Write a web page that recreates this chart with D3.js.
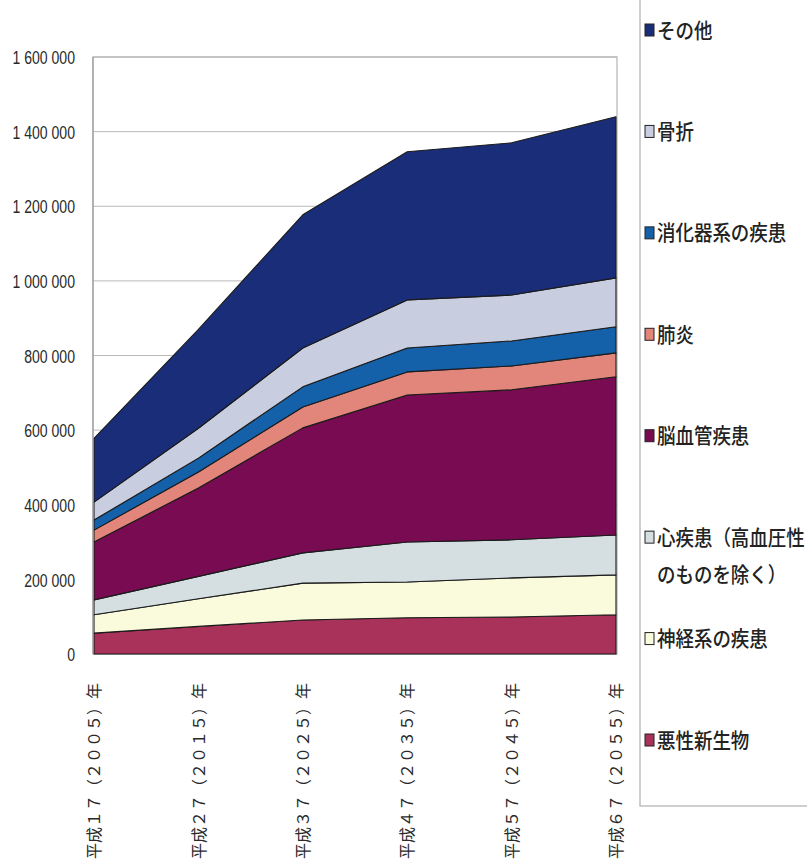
<!DOCTYPE html>
<html lang="ja">
<head>
<meta charset="utf-8">
<script src="https://cdn.jsdelivr.net/npm/d3@7"></script>
<style>
  html, body { margin: 0; padding: 0; background: #fff; }
  svg { display: block; }
</style>
</head>
<body>
<svg id="chart" width="807" height="863"></svg>
<script>
// Categories (x axis), bottom to top stacked series, and y tick values
const categories = [
  "平成１７（２００５）年",
  "平成２７（２０１５）年",
  "平成３７（２０２５）年",
  "平成４７（２０３５）年",
  "平成５７（２０４５）年",
  "平成６７（２０５５）年"
];

const seriesNames = [
  "悪性新生物",
  "神経系の疾患",
  "心疾患（高血圧性のものを除く）",
  "脳血管疾患",
  "肺炎",
  "消化器系の疾患",
  "骨折",
  "その他"
];

const malignant      = [56000, 74000, 91000, 97000, 99000, 105000];
const nervous        = [49000, 74000, 99000, 96000, 105000, 107000];
const heart          = [40000, 60000, 81000, 107000, 102000, 107000];
const cerebrovasc    = [155000, 237000, 335000, 394000, 402000, 424000];
const pneumonia      = [32000, 43000, 56000, 62000, 64000, 64000];
const digestive      = [27000, 37000, 54000, 64000, 67000, 70000];
const fracture       = [48000, 80000, 104000, 129000, 123000, 131000];
const other          = [171000, 265000, 357000, 397000, 408000, 432000];

const seriesValues = [malignant, nervous, heart, cerebrovasc, pneumonia, digestive, fracture, other];

const seriesColors = ["#a8325a", "#fafadc", "#d5dfe2", "#780b52", "#e2857a", "#1461aa", "#c9cde0", "#1a2d78"];

// Legend labels (top to bottom), with line breaks
const legendLabels = [
  ["その他"],
  ["骨折"],
  ["消化器系の疾患"],
  ["肺炎"],
  ["脳血管疾患"],
  ["心疾患（高血圧性", "のものを除く）"],
  ["神経系の疾患"],
  ["悪性新生物"]
];
const legendColors = seriesColors.slice().reverse();

const yTicks = [0, 200000, 400000, 600000, 800000, 1000000, 1200000, 1400000, 1600000];

// Table built from the arrays
const table = categories.map((c, i) => {
  const row = { category: c };
  seriesNames.forEach((s, j) => { row[s] = seriesValues[j][i]; });
  return row;
});

const svg = d3.select("#chart");

const plot = { left: 93, right: 617, top: 57, bottom: 654 };

const x = d3.scalePoint().domain(categories).range([plot.left + 1, plot.right - 1]);
const y = d3.scaleLinear().domain([0, 1600000]).range([plot.bottom, plot.top]);

// Frame and gridlines
svg.append("g").selectAll("line")
  .data(yTicks)
  .join("line")
  .attr("x1", plot.left).attr("x2", plot.right)
  .attr("y1", d => y(d)).attr("y2", d => y(d))
  .attr("stroke", "#b9b9b9").attr("stroke-width", 1);

svg.append("rect")
  .attr("x", plot.left).attr("y", plot.top)
  .attr("width", plot.right - plot.left).attr("height", plot.bottom - plot.top)
  .attr("fill", "none").attr("stroke", "#b5b5b5").attr("stroke-width", 1.2);

// Stacked areas
const stack = d3.stack().keys(seriesNames);
const layers = stack(table);

const area = d3.area()
  .x(d => x(d.data.category))
  .y0(d => y(d[0]))
  .y1(d => y(d[1]));

svg.append("g").selectAll("path")
  .data(layers)
  .join("path")
  .attr("d", area)
  .attr("fill", (d, i) => seriesColors[i])
  .attr("stroke", "#1b1b1b")
  .attr("stroke-width", 1.1)
  .attr("stroke-linejoin", "round");

// Left axis line
svg.append("line")
  .attr("x1", plot.left).attr("x2", plot.left)
  .attr("y1", plot.top).attr("y2", plot.bottom)
  .attr("stroke", "#9a9a9a").attr("stroke-width", 1.2);

// Y axis labels (condensed digits)
const fmt = v => d3.format(",")(v).replace(/,/g, " ");
const yAxis = d3.axisLeft(y).tickValues(yTicks).tickFormat(fmt).tickSize(0);
const gy = svg.append("g")
  .attr("transform", `translate(${plot.left},0)`)
  .call(yAxis);
gy.select(".domain").remove();
gy.selectAll("text")
  .attr("x", 0)
  .attr("dy", "0.35em")
  .attr("transform", "translate(-18,0) scale(0.74,1)")
  .attr("text-anchor", "end")
  .attr("fill", "#2a2a2a")
  .attr("font-family", "'Liberation Sans', Arial, sans-serif")
  .attr("font-size", 19);

// X axis labels, rotated to read upward
const xAxis = d3.axisBottom(x).tickSize(0).tickPadding(0);
const gx = svg.append("g")
  .attr("transform", `translate(0,${plot.bottom})`)
  .call(xAxis);
gx.select(".domain").remove();
gx.selectAll(".tick text")
  .attr("fill", "#2a2a2a")
  .attr("font-family", "'Noto Sans CJK JP', sans-serif")
  .attr("font-size", 16)
  .attr("text-anchor", "end")
  .attr("transform", "translate(0,29) rotate(-90)")
  .attr("x", 0)
  .attr("y", 0)
  .attr("dy", "0.35em");

// Legend box
const legend = svg.append("g");
legend.append("rect")
  .attr("x", 640).attr("y", -5)
  .attr("width", 200).attr("height", 811)
  .attr("fill", "#fff").attr("stroke", "#b0b0b0").attr("stroke-width", 1.2);

const ly = d3.scalePoint().domain(d3.range(legendLabels.length)).range([30, 740]);

const items = legend.selectAll("g.item")
  .data(legendLabels)
  .join("g")
  .attr("class", "item")
  .attr("transform", (d, i) => `translate(645,${ly(i)})`);

items.append("rect")
  .attr("x", 0).attr("y", -6)
  .attr("width", 9).attr("height", 12)
  .attr("fill", (d, i) => legendColors[i])
  .attr("stroke", "#222").attr("stroke-width", 1);

items.each(function(lines) {
  const g = d3.select(this);
  lines.forEach((t, k) => {
    g.append("text")
      .attr("transform", `translate(12,${k * 37}) scale(0.88,1)`)
      .attr("dy", "0.36em")
      .attr("fill", "#222")
      .attr("font-family", "'Noto Sans CJK JP', sans-serif")
      .attr("font-size", 21)
      .attr("font-weight", 500)
      .text(t);
  });
});
</script>
</body>
</html>
